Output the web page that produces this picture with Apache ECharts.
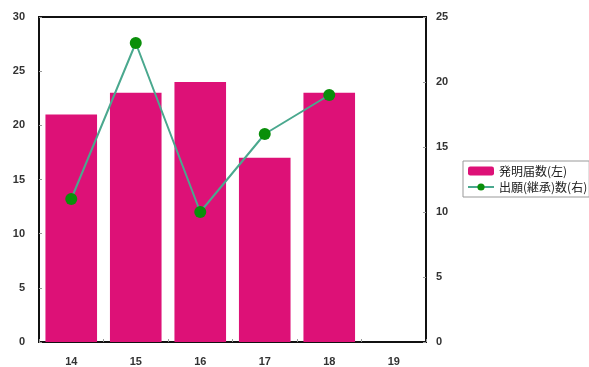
<!DOCTYPE html>
<html>
<head>
<meta charset="utf-8">
<script src="https://cdn.jsdelivr.net/npm/echarts@6/dist/echarts.min.js"></script>
<style>
  html, body { margin: 0; padding: 0; background: #fff; }
  #chart { width: 589px; height: 367px; }
</style>
</head>
<body>
<div id="chart"></div>
<script>
// 年度
const categories = ['14', '15', '16', '17', '18', '19'];
// 発明届数 (左軸)
const inventionCounts = [21, 23, 24, 17, 23, null];
// 出願(継承)数 (右軸)
const filingCounts = [11, 23, 10, 16, 19, null];

const leftTicks = { min: 0, max: 30, interval: 5 };
const rightTicks = { min: 0, max: 25, interval: 5 };

const chart = echarts.init(document.getElementById('chart'));
const labelStyle = {
    color: '#333',
    fontSize: 11,
    fontWeight: 'bold',
    fontFamily: 'Liberation Sans, Arial, sans-serif'
};
const option = {
    animation: false,
    grid: {
        left: 39,
        right: 163,
        top: 17,
        bottom: 25,
        show: true,
        borderColor: '#111',
        borderWidth: 2
    },
    legend: {
        orient: 'vertical',
        left: 463,
        top: 161,
        borderColor: '#999',
        borderWidth: 1,
        padding: [4, 2, 4, 4],
        itemGap: 4,
        itemWidth: 26,
        itemHeight: 9,
        textStyle: {
            fontSize: 12,
            color: '#222',
            fontFamily: 'Noto Sans CJK JP'
        },
        data: ['発明届数(左)', '出願(継承)数(右)']
    },
    xAxis: {
        type: 'category',
        data: categories,
        axisLine: { lineStyle: { color: '#111', width: 2 } },
        axisTick: { show: true, inside: true, length: 3, lineStyle: { color: '#999' } },
        axisLabel: Object.assign({ margin: 14 }, labelStyle)
    },
    yAxis: [
        {
            type: 'value',
            min: leftTicks.min,
            max: leftTicks.max,
            interval: leftTicks.interval,
            splitLine: { show: false },
            axisLine: { show: true, lineStyle: { color: '#111', width: 2 } },
            axisTick: { show: true, inside: true, length: 3, lineStyle: { color: '#999' } },
            axisLabel: Object.assign({ margin: 14 }, labelStyle)
        },
        {
            type: 'value',
            min: rightTicks.min,
            max: rightTicks.max,
            interval: rightTicks.interval,
            splitLine: { show: false },
            axisLine: { show: true, lineStyle: { color: '#111', width: 2 } },
            axisTick: { show: true, inside: true, length: 3, lineStyle: { color: '#999' } },
            axisLabel: Object.assign({ margin: 10 }, labelStyle)
        }
    ],
    series: [
        {
            name: '発明届数(左)',
            type: 'bar',
            yAxisIndex: 0,
            data: inventionCounts,
            barWidth: '80%',
            itemStyle: { color: '#dd1177' }
        },
        {
            name: '出願(継承)数(右)',
            type: 'line',
            yAxisIndex: 1,
            data: filingCounts,
            symbol: 'circle',
            symbolSize: 12,
            lineStyle: { color: '#4aa88e', width: 2 },
            itemStyle: { color: '#0a8f0a', borderWidth: 0 }
        }
    ]
};
chart.setOption(option);
</script>
</body>
</html>
